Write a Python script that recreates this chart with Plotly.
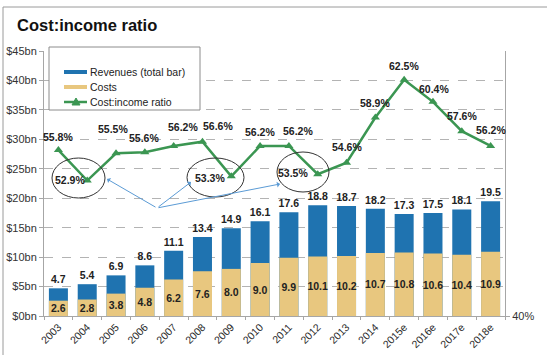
import plotly.graph_objects as go

# ---- data -------------------------------------------------------------
years = ["2003", "2004", "2005", "2006", "2007", "2008", "2009", "2010",
         "2011", "2012", "2013", "2014", "2015e", "2016e", "2017e", "2018e"]
revenues = [4.7, 5.4, 6.9, 8.6, 11.1, 13.4, 14.9, 16.1,
            17.6, 18.8, 18.7, 18.2, 17.3, 17.5, 18.1, 19.5]
costs = [2.6, 2.8, 3.8, 4.8, 6.2, 7.6, 8.0, 9.0,
         9.9, 10.1, 10.2, 10.7, 10.8, 10.6, 10.4, 10.9]
ratio = [55.8, 52.9, 55.5, 55.6, 56.2, 56.6, 53.3, 56.2,
         56.2, 53.5, 54.6, 58.9, 62.5, 60.4, 57.6, 56.2]

# pixel nudges (x, y-up) for each ratio label, relative to its point
ratio_label_shift = [(0, 13), (-17, 1), (-3, 24), (-1, 14), (9, 19), (16, 16),
                     (-21, -2), (0, 14), (9, 15), (-25, 1), (0, 16), (0, 15),
                     (0, 14), (1, 13), (0, 15), (0, 16)]

BLUE = "#1f73b0"
TAN = "#e8c77f"
GREEN = "#3b9652"
AXIS = "#a6a6a6"
TXT = "#222222"
FONT = "Liberation Sans, Arial, sans-serif"

W, H = 547, 355
ML, MR, MT, MB = 44, 42, 51, 39
PW, PH = W - ML - MR, H - MT - MB


def px(x):
    return (x - ML) / PW


def py(y):
    return (H - MB - y) / PH


fig = go.Figure()

fig.add_trace(go.Bar(
    x=years, y=revenues, name="Revenues (total bar)",
    marker=dict(color=BLUE, line=dict(width=0)),
    text=[f"{v:.1f}" for v in revenues], textposition="outside",
    textangle=0,
    textfont=dict(family=FONT, size=10.5, color=TXT, weight="bold"),
    cliponaxis=False, constraintext="none",
))
fig.add_trace(go.Bar(
    x=years, y=costs, name="Costs",
    marker=dict(color=TAN, line=dict(width=0)),
    text=[f"{v:.1f}" for v in costs], textposition="inside",
    insidetextanchor="middle", constraintext="none", textangle=0,
    textfont=dict(family=FONT, size=10.5, color=TXT, weight="bold"),
))
fig.add_trace(go.Scatter(
    x=years, y=ratio, name="Cost:income ratio", yaxis="y2",
    mode="lines+markers",
    line=dict(color=GREEN, width=2.5),
    marker=dict(symbol="triangle-up", size=8, color=GREEN),
    cliponaxis=False,
))

annotations = []
for i, (r, (dx, dy)) in enumerate(zip(ratio, ratio_label_shift)):
    annotations.append(dict(
        x=i, y=r, xref="x", yref="y2", text=f"{r:.1f}%", showarrow=False,
        xshift=dx, yshift=dy,
        font=dict(family=FONT, size=10.5, color=TXT, weight="bold"),
    ))

# title
annotations.append(dict(
    x=px(15), y=py(25), xref="paper", yref="paper", xanchor="left",
    yanchor="middle", text="<b>Cost:income ratio</b>", showarrow=False,
    font=dict(family=FONT, size=16.5, color="#111111"),
))

# legend text
for label, yy in [("Revenues (total bar)", 72), ("Costs", 87),
                  ("Cost:income ratio", 102)]:
    annotations.append(dict(
        x=px(88), y=py(yy), xref="paper", yref="paper", xanchor="left",
        yanchor="middle", text=label, showarrow=False,
        font=dict(family=FONT, size=10.5, color=TXT),
    ))

# arrows pointing at the dips
tail = (157, 208)
for hx, hy in [(107, 179), (191, 182), (280, 184)]:
    annotations.append(dict(
        x=px(hx), y=py(hy), xref="paper", yref="paper", text="",
        showarrow=True, ax=tail[0] - hx, ay=tail[1] - hy,
        arrowhead=1, arrowsize=1, arrowwidth=1, arrowcolor="#5b9bd5",
        standoff=0,
    ))

shapes = [
    # outer frame
    dict(type="line", xref="paper", yref="paper", x0=px(3), x1=px(560),
         y0=py(7), y1=py(7), line=dict(color="#9a9a9a", width=1)),
    dict(type="line", xref="paper", yref="paper", x0=px(3), x1=px(3),
         y0=py(7), y1=py(370), line=dict(color="#9a9a9a", width=1)),
    # legend box and keys
    dict(type="rect", xref="paper", yref="paper", layer="above",
         x0=px(49), x1=px(200), y0=py(47), y1=py(110),
         fillcolor="white", line=dict(color="#8c8c8c", width=1)),
    dict(type="rect", xref="paper", yref="paper", layer="above",
         x0=px(64), x1=px(87), y0=py(70), y1=py(74),
         fillcolor=BLUE, line=dict(width=0)),
    dict(type="rect", xref="paper", yref="paper", layer="above",
         x0=px(64), x1=px(87), y0=py(85), y1=py(89),
         fillcolor=TAN, line=dict(width=0)),
    dict(type="line", xref="paper", yref="paper", layer="above",
         x0=px(64), x1=px(87), y0=py(102), y1=py(102),
         line=dict(color=GREEN, width=2.5)),
    dict(type="path", xref="paper", yref="paper", layer="above",
         path=(f"M {px(72)},{py(105)} L {px(80)},{py(105)} "
               f"L {px(76)},{py(98)} Z"),
         fillcolor=GREEN, line=dict(color=GREEN, width=1)),
]
# ellipses around the dips
for x0, x1, y0, y1 in [(52, 105, 158, 198), (187, 244, 158, 197),
                       (277, 329, 152, 192)]:
    shapes.append(dict(type="circle", xref="paper", yref="paper",
                       x0=px(x0), x1=px(x1), y0=py(y1), y1=py(y0),
                       line=dict(color="#333333", width=1)))

fig.update_layout(
    width=W, height=H,
    margin=dict(l=ML, r=MR, t=MT, b=MB, pad=0, autoexpand=False),
    paper_bgcolor="white", plot_bgcolor="white",
    barmode="overlay", bargap=0.34,
    showlegend=False,
    font=dict(family=FONT, color="#333333"),
    xaxis=dict(
        type="category", range=[-0.5, len(years) - 0.5], tickangle=-45,
        automargin=False,
        showgrid=False, showline=True, linecolor=AXIS, linewidth=1,
        ticks="outside", tickson="boundaries", ticklen=3, tickcolor=AXIS,
        tickfont=dict(family=FONT, size=10.5, color="#2a2a2a"),
    ),
    yaxis=dict(
        range=[0, 45], dtick=5, tickprefix="$", ticksuffix="bn",
        automargin=False,
        showgrid=True, gridcolor="#b3b3b3", griddash="dash", gridwidth=1,
        zeroline=False, showline=True, linecolor=AXIS, linewidth=1,
        ticks="outside", ticklen=4, tickcolor=AXIS,
        tickfont=dict(family=FONT, size=11, color="#333333"),
    ),
    yaxis2=dict(
        overlaying="y", side="right", range=[40, 65.24],
        automargin=False,
        tickvals=[40], ticktext=["40%"], showgrid=False, zeroline=False,
        showline=True, linecolor=AXIS, linewidth=1,
        ticks="outside", ticklen=4, tickcolor=AXIS,
        tickfont=dict(family=FONT, size=11, color="#333333"),
    ),
    annotations=annotations,
    shapes=shapes,
)

fig.write_html("out.html")
